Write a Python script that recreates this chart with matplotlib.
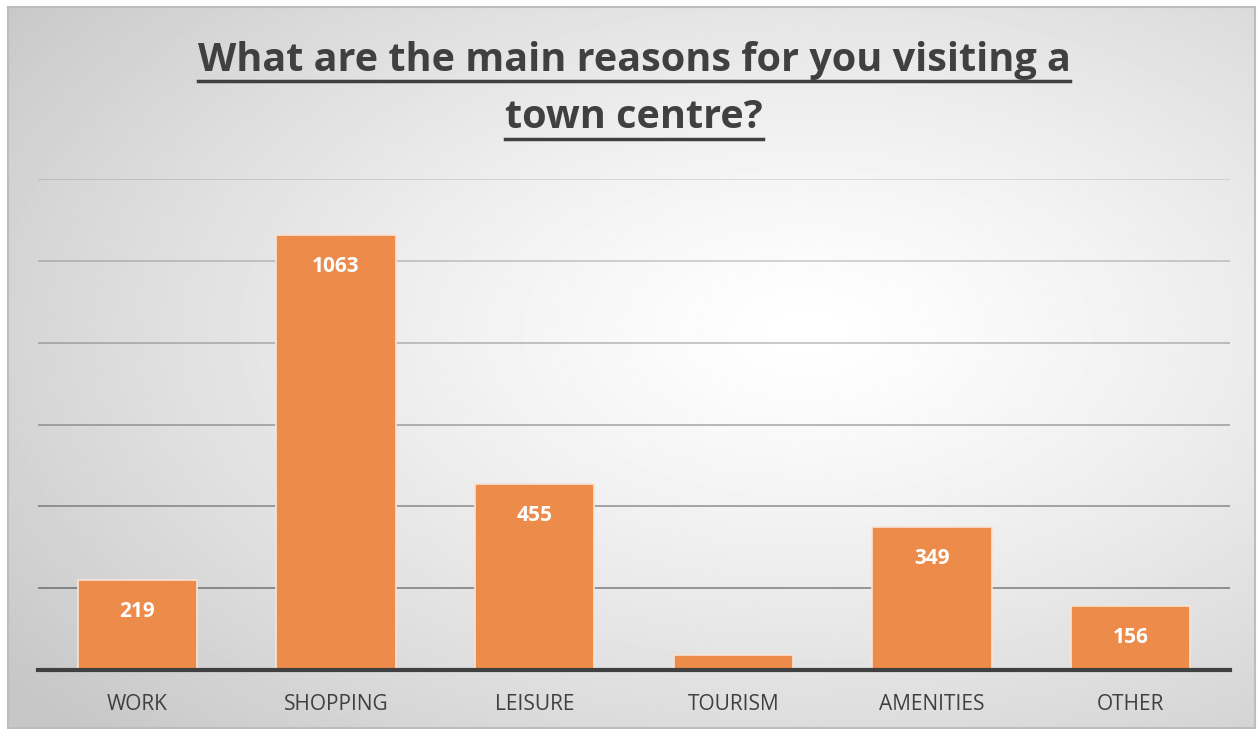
import numpy as np
import matplotlib
matplotlib.use("Agg")
import matplotlib.pyplot as plt
from matplotlib.lines import Line2D

categories = ["WORK", "SHOPPING", "LEISURE", "TOURISM", "AMENITIES", "OTHER"]
values = [219, 1063, 455, 37, 349, 156]
shown_labels = ["219", "1063", "455", "", "349", "156"]
title_lines = ["What are the main reasons for you visiting a", "town centre?"]

W, H = 1257, 729
fig = plt.figure(figsize=(W / 100, H / 100), dpi=100)
fig.patch.set_facecolor("white")

# background radial gradient
bg = fig.add_axes([8 / W, 1 - 728 / H, (1255 - 8) / W, (728 - 7) / H])
yy, xx = np.mgrid[0:400, 0:700]
cx, cy = 0.64 * 700, 0.45 * 400
d = np.sqrt(((xx - cx) / 700) ** 2 + ((yy - cy) / 400) ** 2)
d = d / d.max()
val = 1.0 - 0.22 * np.clip(d / 0.95, 0, 1) ** 1.3
bg.imshow(val, cmap="gray", vmin=0, vmax=1, aspect="auto", interpolation="bilinear")
bg.set_xticks([]); bg.set_yticks([])
for s in bg.spines.values():
    s.set_color("#bdbdbd"); s.set_linewidth(1.5)

ax = fig.add_axes([38 / W, 1 - 670 / H, (1230 - 38) / W, (670 - 179) / H])
ax.patch.set_alpha(0)
x = np.arange(len(categories))
bars = ax.bar(x, values, width=0.6, color="#ED8B4A", edgecolor="#F8E4D6", linewidth=1.2, zorder=3)
ax.set_xlim(-0.5, len(categories) - 0.5)
ax.set_ylim(0, 1200)
grid_levels = np.arange(200, 1201, 200)
for g in grid_levels:
    a = 0.40 - 0.28 * (g - 200) / 1000
    ax.axhline(g, color="black", alpha=a, linewidth=1.3, zorder=2)
ax.set_yticks([])
ax.set_xticks(x)
ax.set_xticklabels(categories, fontsize=15, color="#404040", fontfamily="Open Sans")
ax.tick_params(axis="x", length=0, pad=17)
for s in ["top", "right", "left"]:
    ax.spines[s].set_visible(False)
ax.spines["bottom"].set_color("#404040")
ax.spines["bottom"].set_linewidth(3)
ax.spines["bottom"].set_zorder(5)

for xi, v, lab in zip(x, values, shown_labels):
    if lab:
        ax.annotate(lab, (xi, v), xytext=(0, -22.5), textcoords="offset points",
                    ha="center", va="center", color="white", fontsize=15,
                    fontweight="bold", fontfamily="Open Sans", zorder=6)

# title with underline
title_y = [60, 118]
fig.canvas.draw()
r = fig.canvas.get_renderer()
for line, ty in zip(title_lines, title_y):
    t = fig.text(634 / W, 1 - ty / H, line, ha="center", va="center",
                 fontsize=28.5, fontweight="bold", color="#404040", fontfamily="Open Sans")
    bb = t.get_window_extent(renderer=r)
    uy = 1 - (ty + 21) / H
    fig.add_artist(Line2D([bb.x0 / W, bb.x1 / W], [uy, uy], color="#404040", linewidth=2.5))

fig.savefig("out.png", dpi=100)
